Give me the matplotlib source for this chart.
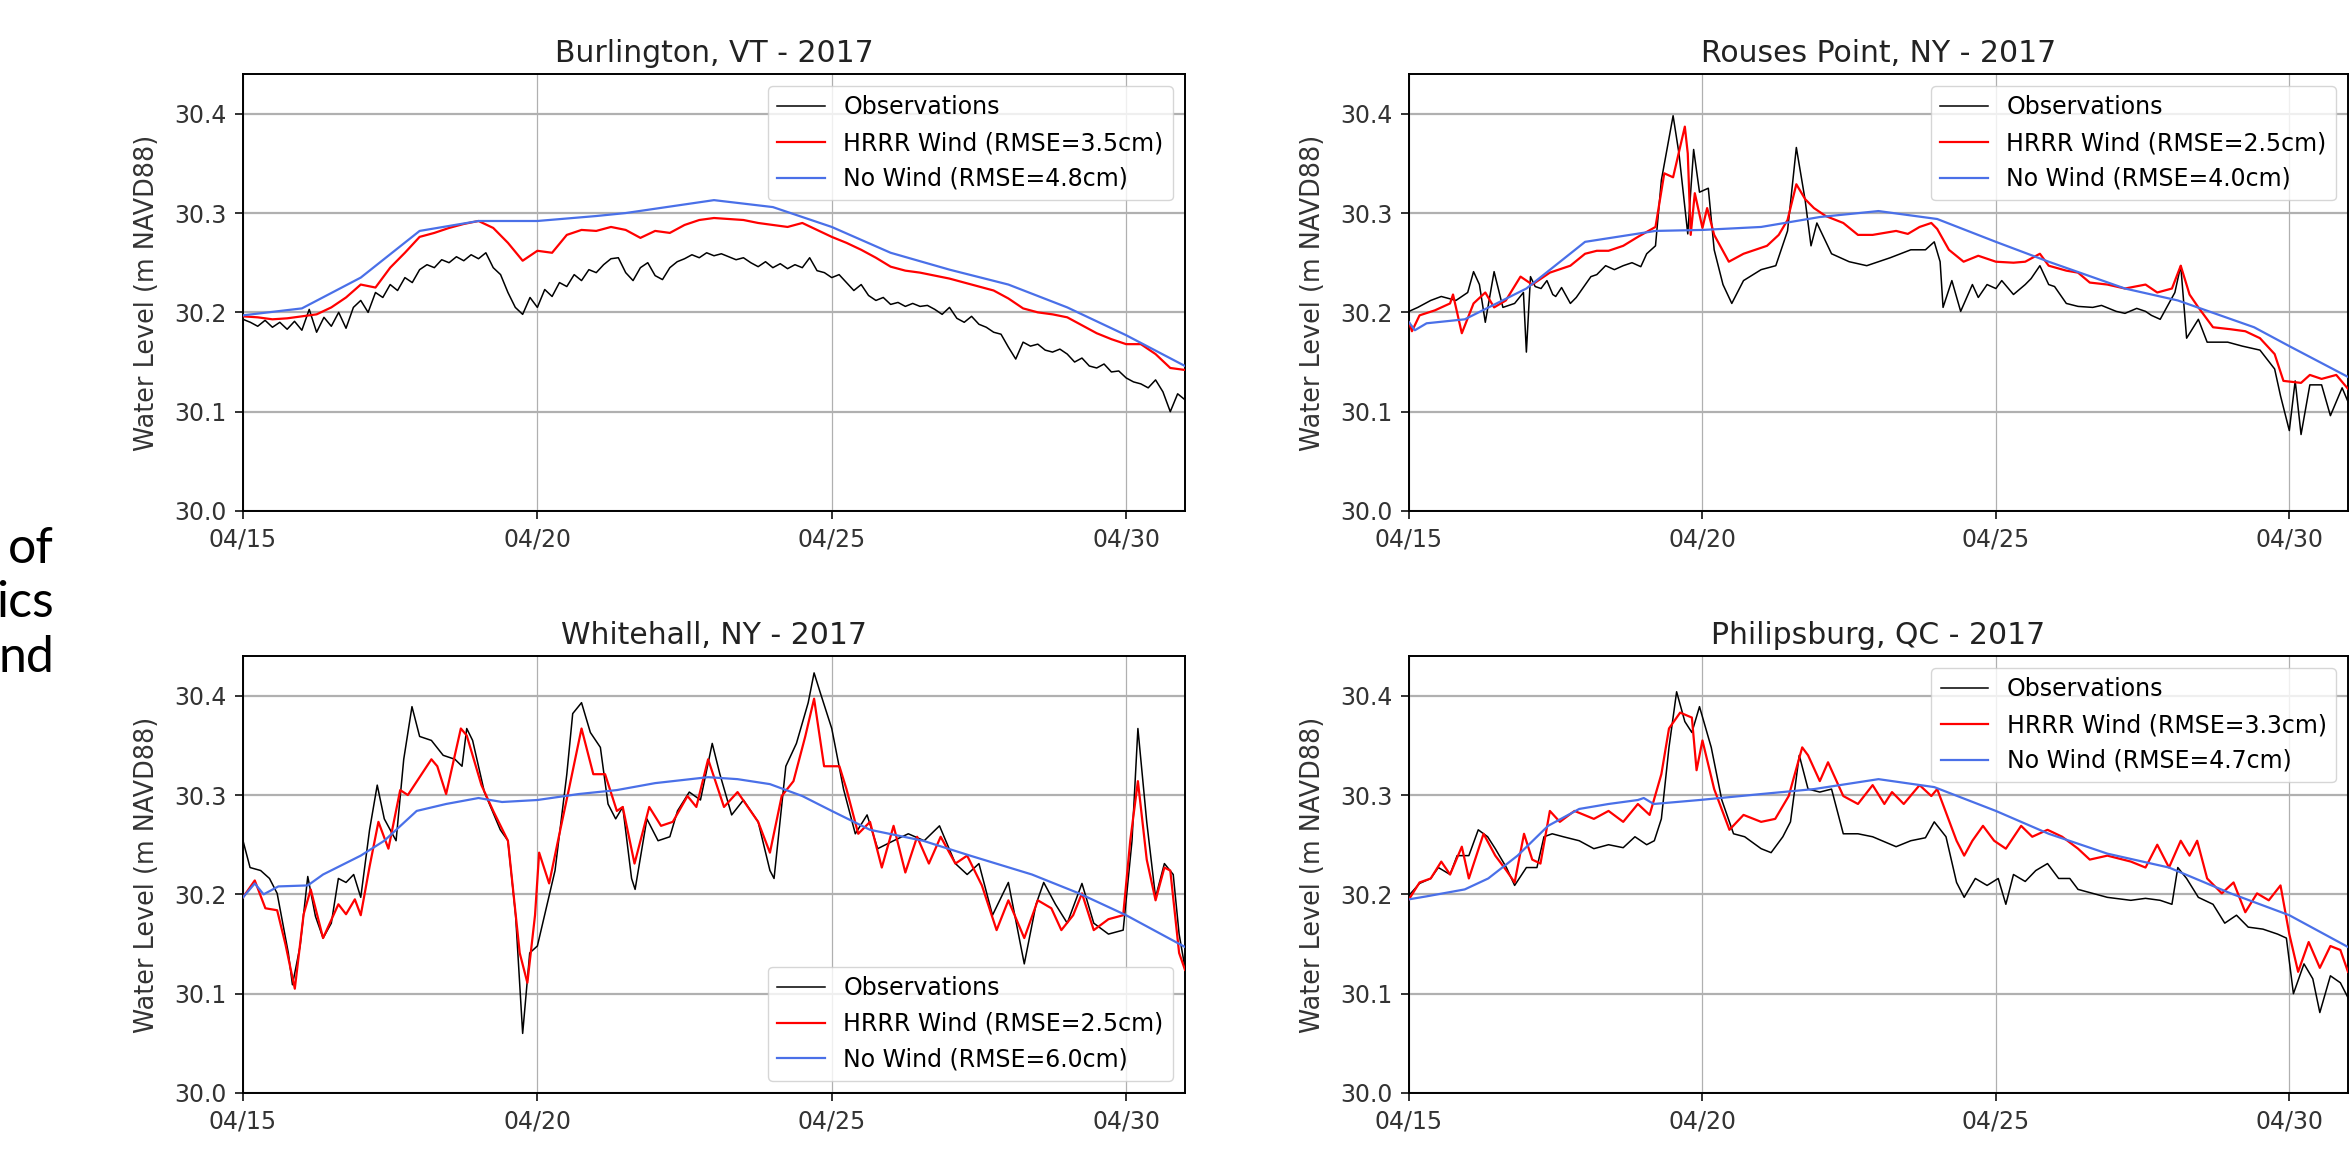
import numpy as np
import matplotlib
matplotlib.use("Agg")
import matplotlib.pyplot as plt
import matplotlib.dates as mdates

plt.rcParams['font.family'] = ['DejaVu Sans']

START = np.datetime64('2017-04-15T00:00')
END = np.datetime64('2017-05-01T00:00')

stations = ["Burlington, VT - 2017", "Rouses Point, NY - 2017",
            "Whitehall, NY - 2017", "Philipsburg, QC - 2017"]
hrrr_rmse = [3.5, 2.5, 2.5, 3.3]
nowind_rmse = [4.8, 4.0, 6.0, 4.7]
legend_loc = ["upper right", "upper right", "lower right", "upper right"]

# times are days after 04/15 00:00, levels in m NAVD88

# ---- Burlington ----
burl_obs_t = list(np.arange(0, 16.001, 0.125))
burl_obs = [30.193, 30.190, 30.186, 30.192, 30.185, 30.190, 30.183, 30.191,
            30.182, 30.203, 30.180, 30.195, 30.186, 30.200, 30.184, 30.205,
            30.212, 30.200, 30.220, 30.215, 30.228, 30.222, 30.235, 30.230,
            30.243, 30.248, 30.245, 30.253, 30.250, 30.256, 30.252, 30.258,
            30.254, 30.260, 30.245, 30.238, 30.220, 30.205, 30.198, 30.215,
            30.205, 30.223, 30.216, 30.230, 30.226, 30.238, 30.232, 30.243,
            30.240, 30.248, 30.254, 30.255, 30.240, 30.232, 30.245, 30.250,
            30.237, 30.233, 30.245, 30.251, 30.254, 30.258, 30.255, 30.260,
            30.257, 30.259, 30.256, 30.253, 30.255, 30.250, 30.246, 30.251,
            30.245, 30.249, 30.244, 30.248, 30.245, 30.255, 30.242, 30.240,
            30.235, 30.238, 30.230, 30.222, 30.228, 30.217, 30.212, 30.215,
            30.208, 30.210, 30.206, 30.209, 30.206, 30.207, 30.203, 30.198,
            30.205, 30.194, 30.190, 30.196, 30.188, 30.185, 30.180, 30.178,
            30.165, 30.153, 30.170, 30.166, 30.168, 30.162, 30.160, 30.163,
            30.158, 30.150, 30.154, 30.146, 30.144, 30.148, 30.140, 30.141,
            30.134, 30.130, 30.128, 30.124, 30.132, 30.120, 30.100, 30.118,
            30.112]
burl_hrrr_t = list(np.arange(0, 16.001, 0.25))
burl_hrrr = [30.196, 30.195, 30.193, 30.194, 30.196, 30.198, 30.205, 30.215,
             30.228, 30.225, 30.245, 30.260, 30.276, 30.280, 30.285, 30.289,
             30.292, 30.285, 30.270, 30.252, 30.262, 30.260, 30.278, 30.283,
             30.282, 30.286, 30.283, 30.275, 30.282, 30.280, 30.288, 30.293,
             30.295, 30.294, 30.293, 30.290, 30.288, 30.286, 30.290, 30.283,
             30.276, 30.270, 30.263, 30.255, 30.246, 30.242, 30.240, 30.237,
             30.234, 30.230, 30.226, 30.222, 30.214, 30.204, 30.200, 30.198,
             30.195, 30.187, 30.179, 30.173, 30.168, 30.168, 30.158, 30.144,
             30.142]
burl_nowind_t = [0, 1, 2, 3, 4, 5, 6, 6.5, 8, 9, 10, 11, 12, 13, 14, 15, 16]
burl_nowind = [30.197, 30.204, 30.235, 30.282, 30.292, 30.292, 30.297, 30.300,
               30.313, 30.306, 30.286, 30.260, 30.243, 30.228, 30.205, 30.177,
               30.146]

# ---- Rouses Point ----
rous_obs_t = [0, 0.15, 0.37, 0.55, 0.8, 1.0, 1.1, 1.2, 1.3, 1.45, 1.6, 1.8,
              1.95, 2.0, 2.07, 2.15, 2.25, 2.35, 2.45, 2.5, 2.6, 2.75, 2.85,
              3.1, 3.2, 3.35, 3.5, 3.65, 3.8, 3.95, 4.05, 4.2,
              4.3, 4.5, 4.6, 4.75, 4.85, 4.95, 5.1, 5.2, 5.35, 5.5, 5.7, 6.0,
              6.25, 6.45, 6.6, 6.75, 6.85, 6.95, 7.2, 7.5, 7.8, 8.2, 8.55, 8.8,
              8.95, 9.05, 9.1, 9.25, 9.4, 9.6, 9.7, 9.85, 10.0, 10.1, 10.3,
              10.5, 10.6, 10.75, 10.9, 11.0, 11.2, 11.4, 11.65, 11.8, 12.05,
              12.2, 12.4, 12.55, 12.65, 12.8, 13.05, 13.15, 13.25, 13.45,
              13.6, 13.95, 14.2, 14.5, 14.75, 14.85, 15.0, 15.1, 15.2, 15.35,
              15.55, 15.7, 15.9, 16.0]
rous_obs = [30.201, 30.205, 30.212, 30.216, 30.212, 30.220, 30.241, 30.228,
            30.190, 30.241, 30.205, 30.209, 30.220, 30.160, 30.236, 30.226,
            30.224, 30.232, 30.218, 30.216, 30.225, 30.209, 30.215,
            30.236, 30.238, 30.247, 30.243, 30.247, 30.250, 30.246, 30.259,
            30.267,
            30.333, 30.398, 30.360, 30.279, 30.364, 30.321, 30.325, 30.263,
            30.228, 30.209, 30.232, 30.243, 30.247, 30.282, 30.366, 30.313,
            30.267, 30.290, 30.259, 30.251, 30.247, 30.255, 30.263, 30.263,
            30.271, 30.251, 30.205, 30.232, 30.201, 30.228, 30.215, 30.228,
            30.224, 30.232, 30.218, 30.228, 30.234, 30.247, 30.228, 30.226,
            30.209, 30.206, 30.205, 30.207, 30.201, 30.199, 30.204, 30.201,
            30.197, 30.193, 30.220, 30.247, 30.174, 30.193, 30.170, 30.170,
            30.166, 30.162, 30.143, 30.116, 30.081, 30.131, 30.077, 30.127,
            30.127, 30.096, 30.124, 30.110]
rous_hrrr_t = [0, 0.05, 0.18, 0.44, 0.7, 0.75, 0.9, 1.1, 1.3, 1.45, 1.65, 1.9,
               2.1, 2.4, 2.75, 3.0, 3.2, 3.4, 3.65, 3.9, 4.2, 4.35, 4.5, 4.7,
               4.75, 4.8, 4.87, 5.0, 5.08, 5.2, 5.45, 5.7, 6.1, 6.3, 6.45, 6.6,
               6.75, 6.9, 7.1, 7.4, 7.65, 7.9, 8.3, 8.5, 8.7, 8.9, 9.0, 9.2,
               9.45, 9.7, 10.0, 10.3, 10.5, 10.75, 10.9, 11.2, 11.4, 11.6, 11.9,
               12.2, 12.55, 12.75, 13.0, 13.15, 13.3, 13.45, 13.7, 14.0, 14.25,
               14.5, 14.75, 14.9, 15.2, 15.35, 15.55, 15.8, 16.0]
rous_hrrr = [30.190, 30.181, 30.197, 30.202, 30.209, 30.218, 30.179, 30.209,
             30.220, 30.205, 30.212, 30.236, 30.228, 30.240, 30.247, 30.259,
             30.262, 30.262, 30.267, 30.276, 30.286, 30.340, 30.336, 30.387,
             30.360, 30.278, 30.320, 30.285, 30.305, 30.278, 30.251, 30.259,
             30.267, 30.278, 30.293, 30.329, 30.314, 30.305, 30.297, 30.290,
             30.278, 30.278, 30.282, 30.279, 30.286, 30.290, 30.284, 30.263,
             30.251, 30.257, 30.251, 30.250, 30.251, 30.259, 30.247, 30.242,
             30.240, 30.230, 30.228, 30.224, 30.228, 30.220, 30.224, 30.247,
             30.218, 30.205, 30.185, 30.183, 30.181, 30.174, 30.158, 30.131,
             30.129, 30.137, 30.133, 30.137, 30.123]
rous_nowind_t = [0, 0.1, 0.3, 0.95, 2, 3, 4.2, 5, 6, 7, 8, 9, 10, 10.9, 12.2,
                 13.1, 14.4, 15, 16]
rous_nowind = [30.190, 30.182, 30.189, 30.193, 30.224, 30.271, 30.282, 30.283,
               30.286, 30.296, 30.302, 30.294, 30.271, 30.251, 30.224, 30.212,
               30.185, 30.166, 30.135]

# ---- Whitehall ----
whit_obs_t = [0, 0.12, 0.3, 0.45, 0.58, 0.77, 0.84, 0.97, 1.1, 1.23, 1.36, 1.5,
              1.62, 1.75, 1.88, 2.0, 2.15, 2.28, 2.4, 2.6, 2.73, 2.87, 3.0, 3.2,
              3.4, 3.6, 3.72, 3.8, 3.9, 4.1, 4.37, 4.5, 4.63, 4.75, 4.87, 5.0,
              5.15, 5.3, 5.5, 5.6, 5.75, 5.9, 6.07, 6.2, 6.33, 6.45, 6.6, 6.66,
              6.86, 7.05, 7.25, 7.38, 7.58, 7.77, 7.97, 8.1, 8.3, 8.5, 8.75,
              8.95, 9.02, 9.22, 9.4, 9.6, 9.7, 9.8, 10.0, 10.2, 10.4, 10.6,
              10.78, 11.05, 11.3, 11.57, 11.83, 12.1, 12.3, 12.5, 12.73, 13.0,
              13.27, 13.47, 13.6, 13.8, 14.0, 14.25, 14.45, 14.7, 14.95, 15.1,
              15.2, 15.35, 15.5, 15.65, 15.8, 15.9, 16.0]
whit_obs = [30.254, 30.227, 30.224, 30.216, 30.201, 30.141, 30.109, 30.148,
            30.218, 30.178, 30.156, 30.171, 30.216, 30.212, 30.220, 30.197,
            30.265, 30.310, 30.276, 30.254, 30.336, 30.389, 30.359, 30.355,
            30.340, 30.336, 30.329, 30.367, 30.355, 30.303, 30.265, 30.254,
            30.179, 30.060, 30.141, 30.148, 30.186, 30.224, 30.321, 30.382,
            30.393, 30.363, 30.348, 30.291, 30.276, 30.288, 30.216, 30.205,
            30.276, 30.254, 30.258, 30.284, 30.303, 30.295, 30.352, 30.321,
            30.280, 30.295, 30.273, 30.224, 30.216, 30.329, 30.352, 30.393,
            30.423, 30.404, 30.367, 30.306, 30.261, 30.280, 30.246, 30.254,
            30.261, 30.254, 30.269, 30.231, 30.220, 30.231, 30.179, 30.212,
            30.130, 30.190, 30.212, 30.190, 30.171, 30.211, 30.171, 30.160,
            30.164, 30.254, 30.367, 30.273, 30.197, 30.231, 30.220, 30.160,
            30.126]
whit_hrrr_t = [0, 0.2, 0.38, 0.58, 0.72, 0.88, 1.03, 1.15, 1.36, 1.62, 1.75,
               1.9, 2.0, 2.15, 2.3, 2.47, 2.67, 2.8, 3.0, 3.2, 3.3, 3.45, 3.7,
               3.8, 4.05, 4.25, 4.5, 4.7, 4.83, 4.96, 5.03, 5.2, 5.35, 5.55,
               5.75, 5.95, 6.15, 6.35, 6.45, 6.65, 6.9, 7.1, 7.3, 7.55, 7.7,
               7.9, 8.17, 8.4, 8.75, 8.95, 9.15, 9.35, 9.55, 9.7, 9.87, 10.13,
               10.25, 10.45, 10.65, 10.85, 11.05, 11.25, 11.45, 11.65, 11.85,
               12.1, 12.3, 12.55, 12.8, 13.0, 13.27, 13.5, 13.73, 13.9, 14.1,
               14.25, 14.45, 14.7, 14.95, 15.07, 15.2, 15.35, 15.5, 15.65,
               15.75, 15.9, 16.0]
whit_hrrr = [30.197, 30.214, 30.186, 30.184, 30.150, 30.105, 30.180, 30.205,
             30.156, 30.190, 30.180, 30.195, 30.179, 30.228, 30.273, 30.246,
             30.305, 30.300, 30.318, 30.336, 30.329, 30.301, 30.367, 30.360,
             30.310, 30.284, 30.254, 30.141, 30.111, 30.179, 30.242, 30.211,
             30.254, 30.310, 30.367, 30.321, 30.321, 30.284, 30.288, 30.231,
             30.288, 30.269, 30.273, 30.299, 30.288, 30.336, 30.288, 30.303,
             30.273, 30.242, 30.299, 30.314, 30.359, 30.397, 30.329, 30.329,
             30.306, 30.261, 30.273, 30.227, 30.269, 30.222, 30.258, 30.231,
             30.258, 30.231, 30.239, 30.209, 30.164, 30.194, 30.156, 30.194,
             30.186, 30.164, 30.179, 30.201, 30.164, 30.175, 30.179, 30.254,
             30.314, 30.235, 30.194, 30.227, 30.224, 30.141, 30.124]
whit_nowind_t = [0, 0.2, 0.35, 0.6, 1.1, 1.36, 2.0, 2.4, 2.95, 3.45, 4.0, 4.4,
                 5.0, 5.7, 6.35, 7.0, 7.9, 8.4, 8.95, 9.5, 10.0, 10.65, 11.55,
                 12.35, 13.4, 14.2, 15.0, 16.0]
whit_nowind = [30.197, 30.211, 30.200, 30.208, 30.209, 30.220, 30.239, 30.254,
               30.284, 30.291, 30.297, 30.293, 30.295, 30.301, 30.305, 30.312,
               30.318, 30.316, 30.311, 30.299, 30.284, 30.265, 30.254, 30.239,
               30.220, 30.201, 30.179, 30.147]

# ---- Philipsburg ----
phil_obs_t = [0, 0.18, 0.37, 0.5, 0.7, 0.82, 1.02, 1.18, 1.34, 1.47, 1.66, 1.8,
              2.0, 2.18, 2.3, 2.44, 2.63, 2.9, 3.15, 3.4, 3.65, 3.85, 4.05,
              4.18, 4.3, 4.43, 4.56, 4.7, 4.82, 4.95, 5.15, 5.33, 5.53, 5.72,
              6.0, 6.17, 6.37, 6.5, 6.65, 6.8, 7.0, 7.2, 7.4, 7.65, 7.9, 8.3,
              8.55, 8.8, 8.95, 9.15, 9.33, 9.46, 9.65, 9.85, 10.04, 10.17, 10.3,
              10.5, 10.68, 10.88, 11.07, 11.26, 11.4, 11.65, 11.9, 12.3, 12.55,
              12.8, 13.0, 13.1, 13.25, 13.45, 13.7, 13.9, 14.1, 14.3, 14.55,
              14.8, 14.95, 15.07, 15.25, 15.4, 15.52, 15.7, 15.87, 16.0]
phil_obs = [30.199, 30.211, 30.216, 30.227, 30.220, 30.239, 30.239, 30.265,
            30.258, 30.246, 30.227, 30.209, 30.227, 30.227, 30.258, 30.261,
            30.258, 30.254, 30.246, 30.250, 30.247, 30.258, 30.250, 30.254,
            30.276, 30.348, 30.404, 30.374, 30.363, 30.389, 30.348, 30.295,
            30.261, 30.258, 30.246, 30.242, 30.258, 30.273, 30.340, 30.306,
            30.303, 30.306, 30.261, 30.261, 30.258, 30.248, 30.254, 30.257,
            30.273, 30.258, 30.212, 30.197, 30.216, 30.209, 30.216, 30.190,
            30.220, 30.213, 30.224, 30.231, 30.216, 30.216, 30.205, 30.201,
            30.197, 30.194, 30.196, 30.194, 30.190, 30.227, 30.216, 30.197,
            30.190, 30.171, 30.179, 30.167, 30.165, 30.160, 30.156, 30.100,
            30.130, 30.115, 30.081, 30.118, 30.111, 30.096]
phil_hrrr_t = [0, 0.18, 0.37, 0.55, 0.7, 0.9, 1.02, 1.27, 1.47, 1.66, 1.8,
               1.96, 2.1, 2.24, 2.4, 2.57, 2.82, 3.15, 3.4, 3.65, 3.9, 4.1, 4.3,
               4.43, 4.62, 4.82, 4.9, 5.0, 5.2, 5.46, 5.7, 6.0, 6.24, 6.47, 6.7,
               6.8, 7.0, 7.14, 7.4, 7.65, 7.9, 8.1, 8.23, 8.43, 8.7, 8.9, 9.0,
               9.14, 9.33, 9.46, 9.6, 9.78, 9.97, 10.17, 10.43, 10.62, 10.88,
               11.13, 11.4, 11.6, 11.9, 12.3, 12.55, 12.75, 12.95, 13.15, 13.3,
               13.43, 13.6, 13.85, 14.05, 14.25, 14.45, 14.65, 14.85, 15.0,
               15.15, 15.33, 15.52, 15.7, 15.87, 16.0]
phil_hrrr = [30.195, 30.212, 30.216, 30.233, 30.220, 30.248, 30.216, 30.261,
             30.239, 30.224, 30.212, 30.261, 30.235, 30.231, 30.284, 30.273,
             30.284, 30.276, 30.284, 30.273, 30.291, 30.280, 30.321, 30.367,
             30.383, 30.378, 30.325, 30.355, 30.306, 30.265, 30.280, 30.273,
             30.276, 30.299, 30.348, 30.340, 30.314, 30.333, 30.299, 30.291,
             30.310, 30.291, 30.303, 30.291, 30.310, 30.299, 30.306, 30.284,
             30.254, 30.239, 30.254, 30.269, 30.254, 30.246, 30.269, 30.258,
             30.265, 30.258, 30.246, 30.235, 30.239, 30.233, 30.227, 30.250,
             30.227, 30.254, 30.239, 30.254, 30.216, 30.201, 30.212, 30.182,
             30.201, 30.194, 30.209, 30.160, 30.122, 30.152, 30.126, 30.148,
             30.144, 30.122]
phil_nowind_t = [0, 0.3, 0.95, 1.35, 1.85, 2.37, 2.9, 3.4, 3.9, 4.0, 4.17, 4.95,
                 6.0, 6.9, 8.0, 8.95, 10.0, 10.9, 11.9, 12.95, 14.0, 15.0, 16.0]
phil_nowind = [30.195, 30.198, 30.205, 30.216, 30.239, 30.269, 30.286, 30.291,
               30.295, 30.297, 30.291, 30.295, 30.301, 30.306, 30.316, 30.308,
               30.284, 30.261, 30.241, 30.227, 30.201, 30.179, 30.147]

obs_t = [burl_obs_t, rous_obs_t, whit_obs_t, phil_obs_t]
obs_v = [burl_obs, rous_obs, whit_obs, phil_obs]
hrrr_t = [burl_hrrr_t, rous_hrrr_t, whit_hrrr_t, phil_hrrr_t]
hrrr_v = [burl_hrrr, rous_hrrr, whit_hrrr, phil_hrrr]
nowind_t = [burl_nowind_t, rous_nowind_t, whit_nowind_t, phil_nowind_t]
nowind_v = [burl_nowind, rous_nowind, whit_nowind, phil_nowind]


def to_dates(days):
    secs = np.round(np.asarray(days, dtype=float) * 86400).astype('timedelta64[s]')
    return START + secs


W, H = 2350, 1162
fig = plt.figure(figsize=(W / 100, H / 100), dpi=100)

# axes boxes in pixels: left, top, width, height
boxes = [(243, 74, 942, 437), (1409, 74, 939, 437),
         (243, 656, 942, 437), (1409, 656, 939, 437)]

for i, (bx, by, bw, bh) in enumerate(boxes):
    ax = fig.add_axes([bx / W, (H - by - bh) / H, bw / W, bh / H])
    assert len(obs_t[i]) == len(obs_v[i])
    assert len(hrrr_t[i]) == len(hrrr_v[i])
    assert len(nowind_t[i]) == len(nowind_v[i])
    ax.plot(to_dates(obs_t[i]), obs_v[i], color='black', lw=1.1,
            label='Observations', zorder=3)
    ax.plot(to_dates(hrrr_t[i]), hrrr_v[i], color='red', lw=1.6,
            label='HRRR Wind (RMSE=%.1fcm)' % hrrr_rmse[i], zorder=4)
    ax.plot(to_dates(nowind_t[i]), nowind_v[i], color='#4a70e8', lw=1.6,
            label='No Wind (RMSE=%.1fcm)' % nowind_rmse[i], zorder=5)

    ax.set_xlim(START, END)
    ax.set_ylim(30.0, 30.44)
    ax.set_yticks([30.0, 30.1, 30.2, 30.3, 30.4])
    ax.yaxis.set_major_formatter(plt.FormatStrFormatter('%.1f'))
    ax.xaxis.set_major_locator(mdates.DayLocator(bymonthday=[15, 20, 25, 30]))
    ax.xaxis.set_major_formatter(mdates.DateFormatter('%m/%d'))
    ax.tick_params(labelsize=17, length=6, width=1.3, pad=6, colors='#222222',
                   labelcolor='#333333')
    ax.grid(axis='x', color='#b0b0b0', lw=0.9)
    ax.grid(axis='y', color='#b0b0b0', lw=1.6)
    for s in ax.spines.values():
        s.set_linewidth(1.4)
    ax.set_title(stations[i], fontsize=21.5, pad=9, color='#222222')
    ax.set_ylabel('Water Level (m NAVD88)', fontsize=18.4, labelpad=10,
                  color='#333333')
    ax.legend(loc=legend_loc[i], fontsize=17)

# cut-off slide text at the left edge
for word, base in [("of", 563), ("ics", 617), ("nd", 672)]:
    fig.text(54 / W, (H - base) / H, word, ha='right', va='baseline',
             fontsize=36, family=['Lato', 'DejaVu Sans'], color='black')

fig.savefig('out.png', dpi=100)
